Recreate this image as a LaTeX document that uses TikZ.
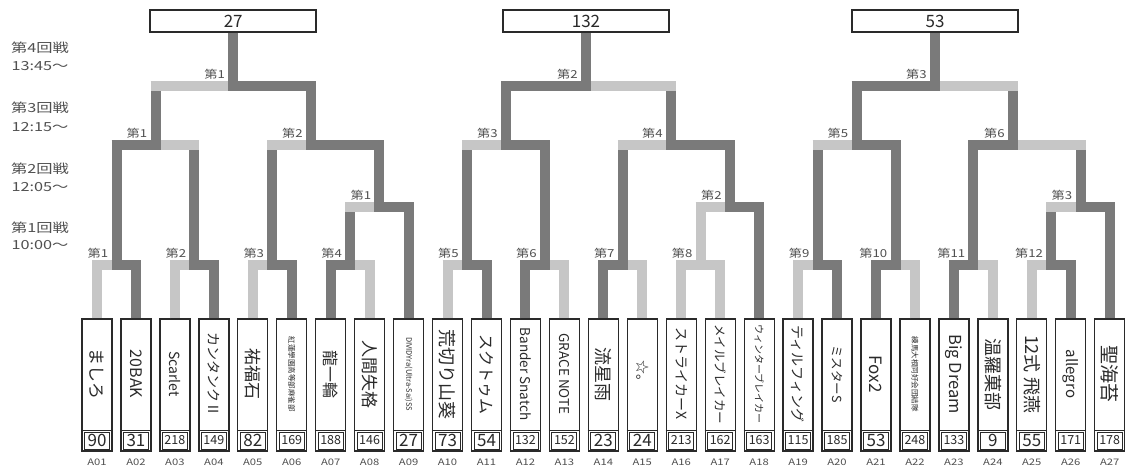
\documentclass[tikz,border=0pt]{standalone}
\usepackage{fontspec}
\setmainfont{Noto Sans CJK JP}
\usetikzlibrary{calc}
\definecolor{dk}{HTML}{7A7A7A}
\definecolor{lt}{HTML}{C6C6C6}
\definecolor{ink}{HTML}{2A2A2A}
\definecolor{labc}{HTML}{505050}
\tikzset{
  win/.style={draw=dk, line width=10pt},
  lose/.style={draw=lt, line width=10pt},
  entrybox/.style={draw=ink, line width=1.3pt, minimum width=30pt, minimum height=132pt, inner sep=0pt},
  numcell/.style={draw=ink, line width=0.9pt, minimum width=25pt, minimum height=17pt, inner sep=0pt, text=ink},
  topbox/.style={draw=ink, line width=1.5pt, minimum width=166pt, minimum height=22pt, inner sep=0pt, text=ink, font=\fontsize{17}{17}\selectfont},
  matchlab/.style={inner sep=0pt, text=labc, font=\fontsize{11}{11}\selectfont, xscale=1.2},
  roundlab/.style={inner sep=0pt, text=labc, font=\fontsize{12.5}{12.5}\selectfont, xscale=1.3},
  alab/.style={inner sep=0pt, text=labc, font=\fontsize{9}{9}\selectfont, xscale=1.25},
}
% match macros: name, stem x, bar y, left child, right child, left leg style, right leg style, label
\newcommand\boutR[8]{%
  \coordinate (#1) at (#2,#3);
  \draw[#6] (#4) -- (#4 |- #1);
  \draw[#7] (#5) -- (#5 |- #1);
  \draw[lose] ($(#4 |- #1)+(-5,0)$) -- ($(#1)+(-5,0)$);
  \draw[win] ($(#1)+(-5,0)$) -- ($(#5 |- #1)+(5,0)$);
  \node[matchlab, anchor=south east] (l#1) at ($(#1)+(-8,-6)$) {#8};
}
\newcommand\boutL[8]{%
  \coordinate (#1) at (#2,#3);
  \draw[#6] (#4) -- (#4 |- #1);
  \draw[#7] (#5) -- (#5 |- #1);
  \draw[win] ($(#4 |- #1)+(-5,0)$) -- ($(#1)+(5,0)$);
  \draw[lose] ($(#1)+(5,0)$) -- ($(#5 |- #1)+(5,0)$);
  \node[matchlab, anchor=south east] (l#1) at ($(#1)+(-8,-6)$) {#8};
}
\newcommand\boutN[8]{%
  \coordinate (#1) at (#2,#3);
  \draw[#6] (#4) -- (#4 |- #1);
  \draw[#7] (#5) -- (#5 |- #1);
  \draw[lose] ($(#4 |- #1)+(-5,0)$) -- ($(#5 |- #1)+(5,0)$);
  \node[matchlab, anchor=south east] (l#1) at ($(#1)+(-8,-6)$) {#8};
}
\begin{document}
\begin{tikzpicture}[x=1pt,y=-1pt]
\useasboundingbox[fill=white] (0,0) rectangle (1127,475);

% round labels
\node[roundlab] (r4a) at (40,47.5) {第4回戦};
\node[roundlab] (r4b) at (40,66.5) {13:45～};
\node[roundlab] (r3a) at (40,107.5) {第3回戦};
\node[roundlab] (r3b) at (40,127) {12:15～};
\node[roundlab] (r2a) at (40,169) {第2回戦};
\node[roundlab] (r2b) at (40,187) {12:05～};
\node[roundlab] (r1a) at (40,227.5) {第1回戦};
\node[roundlab] (r1b) at (40,245) {10:00～};

% entries
\foreach \i/\nm/\fs/\num in {
  1/ましろ/17/90, 2/20BAK/16/31, 3/Scarlet/14/218, 4/カンタンクⅡ/14/149,
  5/祐福石/17/82, 6/紅蓮學園高等部麻雀部/7.5/169, 7/龍一輪/16/188, 8/人間失格/17/146,
  9/DIVIDYra(Ultra-Sai)SS/7.5/27, 10/荒切り山葵/18/73, 11/スクトゥム/16/54,
  12/Bander Snatch/13.5/132, 13/GRACE NOTE/13.5/152, 14/流星雨/18/23, 15/☆。/14/24,
  16/ストライカーX/14/213, 17/メイルブレイカー/12.5/162, 18/ウィンターブレイカー/10/163,
  19/ティルフィング/14/115, 20/ミスターS/12.5/185, 21/Fox2/17/53,
  22/練馬大根同好会団結隊/7.5/248, 23/Big Dream/16.5/133, 24/温羅菓部/18/9,
  25/12式 飛燕/18/55, 26/allegro/15/171, 27/聖海苔/19/178} {
  \pgfmathsetmacro\cx{97+(\i-1)*38.95}
  \node[entrybox] (e\i) at (\cx,385) {};
  \draw[ink, line width=1pt] ($(e\i.west)+(0,45)$) -- ($(e\i.east)+(0,45)$);
  \ifnum\num>99
    \node[numcell, font=\fontsize{12.5}{12.5}\selectfont] (n\i) at (\cx,440.5) {\num};
  \else
    \node[numcell, font=\fontsize{17}{17}\selectfont] (n\i) at (\cx,440.5) {\num};
  \fi
  \node[rotate=-90, inner sep=0pt, text=ink, font=\fontsize{\fs}{\fs}\selectfont] (t\i) at (\cx,374) {\nm};
  \node[alab] (a\i) at (\cx,462) {A\ifnum\i<10 0\fi\i};
}

% first round
\boutR{m1}{116.5}{265}{e1.north}{e2.north}{lose}{win}{第1}
\boutR{m2}{194.4}{265}{e3.north}{e4.north}{lose}{win}{第2}
\boutR{m3}{272.3}{265}{e5.north}{e6.north}{lose}{win}{第3}
\boutL{m4}{350.2}{265}{e7.north}{e8.north}{win}{lose}{第4}
\boutR{m5}{467.0}{265}{e10.north}{e11.north}{lose}{win}{第5}
\boutL{m6}{544.9}{265}{e12.north}{e13.north}{win}{lose}{第6}
\boutL{m7}{622.8}{265}{e14.north}{e15.north}{win}{lose}{第7}
\boutN{m8}{700.7}{265}{e16.north}{e17.north}{lose}{lose}{第8}
\boutR{m9}{817.6}{265}{e19.north}{e20.north}{lose}{win}{第9}
\boutL{m10}{895.5}{265}{e21.north}{e22.north}{win}{lose}{第10}
\boutL{m11}{973.4}{265}{e23.north}{e24.north}{win}{lose}{第11}
\boutR{m12}{1051.3}{265}{e25.north}{e26.north}{lose}{win}{第12}

% second round
\boutR{p1}{379.4}{207}{m4}{e9.north}{win}{win}{第1}
\boutR{p2}{729.9}{207}{m8}{e18.north}{lose}{win}{第2}
\boutR{p3}{1080.5}{207}{m12}{e27.north}{win}{win}{第3}

% third round
\boutL{q1}{155.5}{145}{m1}{m2}{win}{win}{第1}
\boutR{q2}{311}{145}{m3}{p1}{win}{win}{第2}
\boutR{q3}{506}{145}{m5}{m6}{win}{win}{第3}
\boutR{q4}{671}{145}{m7}{p2}{win}{win}{第4}
\boutR{q5}{856.5}{145}{m9}{m10}{win}{win}{第5}
\boutL{q6}{1013}{145}{m11}{p3}{win}{win}{第6}

% fourth round
\boutR{s1}{233.2}{86}{q1}{q2}{win}{win}{第1}
\boutL{s2}{586}{86}{q3}{q4}{win}{win}{第2}
\boutL{s3}{935}{86}{q5}{q6}{win}{win}{第3}

% winners
\node[topbox] (w1) at (233.2,21) {27};
\node[topbox] (w2) at (586,21) {132};
\node[topbox] (w3) at (935,21) {53};
\draw[win] (s1) -- (w1.south);
\draw[win] (s2) -- (w2.south);
\draw[win] (s3) -- (w3.south);
\end{tikzpicture}
\end{document}
